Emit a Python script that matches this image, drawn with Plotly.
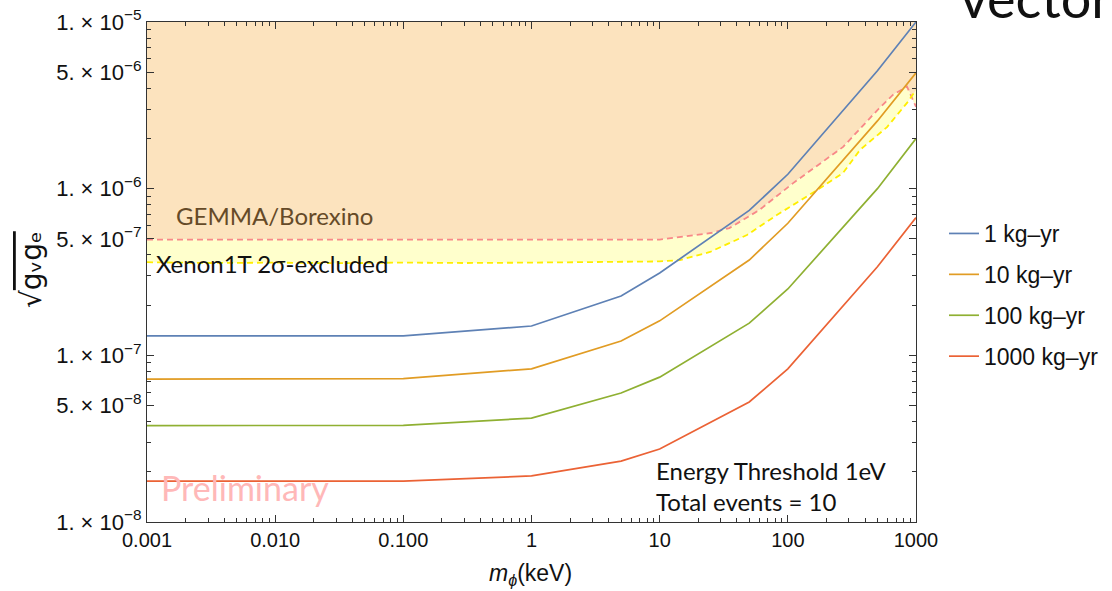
import plotly.graph_objects as go

# ---------------- data ----------------
mass = [0.001, 0.1, 1, 5, 10, 50, 100, 500, 1000]
g_1kg = [1.31e-7, 1.31e-7, 1.50e-7, 2.27e-7, 3.12e-7, 7.4e-7, 1.22e-6, 5.1e-6, 1.0e-5]
g_10kg = [7.2e-8, 7.25e-8, 8.3e-8, 1.22e-7, 1.61e-7, 3.73e-7, 6.2e-7, 2.55e-6, 4.95e-6]
g_100kg = [3.79e-8, 3.8e-8, 4.2e-8, 5.94e-8, 7.4e-8, 1.56e-7, 2.5e-7, 1.0e-6, 2.0e-6]
g_1000kg = [1.76e-8, 1.76e-8, 1.89e-8, 2.32e-8, 2.74e-8, 5.25e-8, 8.3e-8, 3.4e-7, 6.7e-7]
series_names = ["1 kg\u2013yr", "10 kg\u2013yr", "100 kg\u2013yr", "1000 kg\u2013yr"]

gemma_mass = [0.001, 0.01, 0.1, 1, 10, 25, 35, 60, 110, 270, 500, 660, 850, 1000]
gemma_g = [4.95e-7, 4.95e-7, 4.92e-7, 4.92e-7, 4.95e-7, 5.42e-7, 5.8e-7, 7.45e-7,
           1.08e-6, 1.78e-6, 2.96e-6, 3.65e-6, 4.1e-6, 3.1e-6]

xenon_mass = [0.001, 0.003, 0.01, 0.03, 0.1, 0.3, 1, 3, 10, 14.4, 24.7, 48, 82,
              169, 269, 366, 594, 851, 1000]
xenon_g = [3.62e-7, 3.58e-7, 3.6e-7, 3.57e-7, 3.6e-7, 3.58e-7, 3.6e-7, 3.62e-7,
           3.66e-7, 3.73e-7, 4.17e-7, 5.27e-7, 6.95e-7, 9.8e-7, 1.24e-6, 1.71e-6,
           2.34e-6, 3.27e-6, 3.91e-6]

x_tickvals = [0.001, 0.01, 0.1, 1, 10, 100, 1000]
x_ticktext = ["0.001", "0.010", "0.100", "1", "10", "100", "1000"]
y_tickvals = [1e-8, 5e-8, 1e-7, 5e-7, 1e-6, 5e-6, 1e-5]
y_ticktext = ["1. \u00d7 10<sup>\u22128</sup>", "5. \u00d7 10<sup>\u22128</sup>",
              "1. \u00d7 10<sup>\u22127</sup>", "5. \u00d7 10<sup>\u22127</sup>",
              "1. \u00d7 10<sup>\u22126</sup>", "5. \u00d7 10<sup>\u22126</sup>",
              "1. \u00d7 10<sup>\u22125</sup>"]

colors = ["#5E81B5", "#E19C24", "#8FB032", "#EB6235"]

# ---------------- figure ----------------
fig = go.Figure()

# top boundary for the GEMMA/Borexino fill
fig.add_trace(go.Scatter(x=[mass[0], mass[-1]], y=[1e-4, 1e-4], mode="lines",
                         line=dict(width=0), showlegend=False, hoverinfo="skip"))
fig.add_trace(go.Scatter(x=gemma_mass, y=gemma_g, mode="lines", fill="tonexty",
                         fillcolor="#FCE3BE",
                         line=dict(color="#F88888", width=1.8, dash="6px,4px"),
                         showlegend=False))
fig.add_trace(go.Scatter(x=xenon_mass, y=xenon_g, mode="lines", fill="tonexty",
                         fillcolor="#FFFFCC",
                         line=dict(color="#FFEE00", width=1.8, dash="6px,4px"),
                         showlegend=False))

for name, ys, c in zip(series_names, [g_1kg, g_10kg, g_100kg, g_1000kg], colors):
    fig.add_trace(go.Scatter(x=mass, y=ys, mode="lines", name=name,
                             legendgroup=name,
                             line=dict(color=c, width=1.7)))

def px_x(px):
    return (px - 147) / 769.0

def px_y(py):
    return 1 - (py - 22) / 500.0

ann_font = "Lato, 'Open Sans', sans-serif"
annotations = [
    dict(text="GEMMA/Borexino", x=px_x(174), y=px_y(215), xanchor="left", yanchor="middle",
         font=dict(family=ann_font, size=24, color="#654A28")),
    dict(text="Xenon1T 2\u03c3-excluded", x=px_x(154), y=px_y(263), xanchor="left", yanchor="middle",
         font=dict(family=ann_font, size=24, color="#111111")),
    dict(text="Preliminary", x=px_x(159), y=px_y(487), xanchor="left", yanchor="middle",
         font=dict(family=ann_font, size=34, color="#FFB8B8")),
    dict(text="Energy Threshold 1eV", x=px_x(654), y=px_y(470), xanchor="left", yanchor="middle",
         font=dict(family=ann_font, size=24, color="#111111")),
    dict(text="Total events = 10", x=px_x(654), y=px_y(501), xanchor="left", yanchor="middle",
         font=dict(family=ann_font, size=24, color="#111111")),
    dict(text="<i>m</i><sub><i>\u03d5</i></sub>(keV)", x=px_x(530), y=px_y(574),
         xanchor="center", yanchor="middle",
         font=dict(family="Liberation Sans, Arial", size=23, color="#111111")),
    dict(text="\u221a<span style='text-decoration:overline'>g\u1d65g\u2091</span>",
         x=px_x(31), y=px_y(270), xanchor="center", yanchor="middle", textangle=-90,
         font=dict(family="DejaVu Sans, Liberation Sans", size=28, color="#111111")),
    dict(text="vector mediator", x=px_x(958), y=px_y(32), xanchor="left", yanchor="bottom",
         font=dict(family="Lato, 'Open Sans', sans-serif", size=54, color="#111111")),
]
for a in annotations:
    a.update(xref="paper", yref="paper", showarrow=False)

minor_x = [m * 10 ** k for k in range(-3, 3) for m in range(2, 10)]
minor_y = [m * 10 ** k for k in range(-8, -5) for m in range(2, 10) if m != 5]

axis_common = dict(showgrid=False, zeroline=False, showline=True, linecolor="#333333",
                   linewidth=1, mirror="ticks", ticks="inside", ticklen=7,
                   tickcolor="#333333", tickwidth=1)

fig.update_xaxes(type="log", range=[-3, 3], tickmode="array", tickvals=x_tickvals,
                 ticktext=x_ticktext,
                 tickfont=dict(family="Liberation Sans, Arial", size=20, color="#111111"),
                 minor=dict(tickmode="array", tickvals=minor_x, ticks="inside", ticklen=4,
                            tickcolor="#333333", showgrid=False),
                 **axis_common)
fig.update_yaxes(type="log", range=[-8, -5], tickmode="array", tickvals=y_tickvals,
                 ticktext=y_ticktext,
                 tickfont=dict(family="Liberation Sans, Arial", size=22, color="#111111"),
                 minor=dict(tickmode="array", tickvals=minor_y, ticks="inside", ticklen=4,
                            tickcolor="#333333", showgrid=False),
                 **axis_common)

fig.update_layout(
    width=1112, height=591,
    margin=dict(l=147, r=196, t=22, b=69, pad=0, autoexpand=False),
    paper_bgcolor="white", plot_bgcolor="white",
    annotations=annotations,
    legend=dict(x=px_x(944), y=px_y(295), xanchor="left", yanchor="middle",
                font=dict(family="Liberation Sans, Arial", size=23, color="#111111"),
                tracegroupgap=8, bgcolor="rgba(0,0,0,0)"),
    showlegend=True,
)

fig.write_html("out.html")
